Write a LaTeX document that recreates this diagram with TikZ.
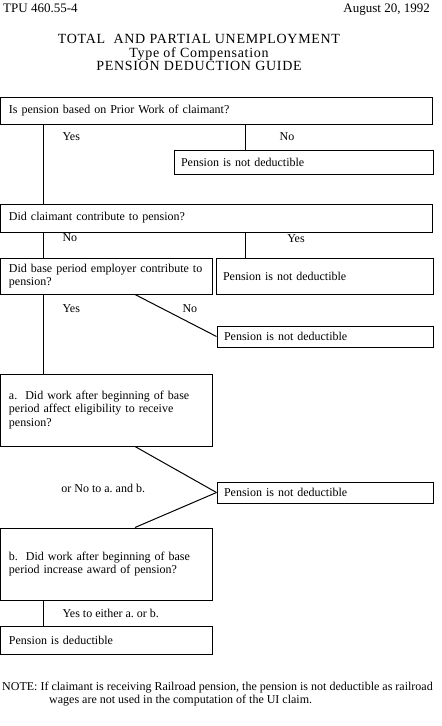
\documentclass[tikz,border=0pt]{standalone}
\usepackage{fontspec}
\setmainfont{Liberation Serif}
\newfontfamily\titlefamily[LetterSpace=5]{Liberation Serif}
\usepackage{tikz}
\usetikzlibrary{positioning}
\newcommand{\guidefont}{\fontsize{12}{13.5}\selectfont}
\tikzstyle{question} = [rectangle, draw=black, fill=none, line width=1pt, inner xsep=9pt, inner ysep=0pt, align=left, font=\guidefont]
\tikzstyle{verdict} = [rectangle, draw=black, fill=none, line width=1pt, inner xsep=7pt, inner ysep=0pt, align=left, font=\guidefont]
\tikzstyle{answer} = [font=\guidefont, inner sep=0pt]
\tikzstyle{connector} = [line width=1pt]

\begin{document}
\begin{tikzpicture}[x=1pt, y=1pt, node distance=60pt]
        \useasboundingbox (0,0) rectangle (442,-726);
        \node (code) [anchor=base west, inner sep=0pt, font=\fontsize{13}{15}\selectfont] at (3,-12.5) {TPU 460.55-4};
        \node (date) [anchor=base east, inner sep=0pt, font=\fontsize{13}{15}\selectfont] at (430,-12.5) {August 20, 1992};
        \node (title) [anchor=north, inner sep=0pt, align=center, font=\titlefamily\fontsize{14}{13.5}\selectfont] at (199,-34.5) {TOTAL\ \ AND PARTIAL UNEMPLOYMENT\\Type of Compensation\\PENSION DEDUCTION GUIDE};

        \node (q1) [question, text width=414pt, minimum height=27pt] at (216,-110.5) {Is pension based on Prior Work of claimant?};
        \node (nd1) [verdict, text width=245pt, minimum height=24pt, below of=q1, xshift=87.5pt, yshift=8.5pt] {Pension is not deductible};
        \node (q2) [question, text width=414pt, minimum height=28pt, below of=q1, yshift=-47.5pt] {Did claimant contribute to pension?};
        \node (q3) [question, text width=194pt, minimum height=36pt, below of=q2, xshift=-110pt, yshift=2pt] {Did base period employer contribute to\\pension?};
        \node (nd2) [verdict, text width=203pt, minimum height=36pt, right of=q3, xshift=158.5pt] {Pension is not deductible};
        \node (nd3) [verdict, text width=202pt, minimum height=21pt, below of=q3, xshift=219pt, yshift=-0.5pt] {Pension is not deductible};
        \node (qa) [question, text width=194pt, minimum height=72pt, below of=q3, yshift=-74pt] {a.\ \ Did work after beginning of base\\period affect eligibility to receive\\pension?};
        \node (nd4) [verdict, text width=202pt, minimum height=21pt, below of=qa, xshift=219pt, yshift=-22.5pt] {Pension is not deductible};
        \node (qb) [question, text width=194pt, minimum height=72pt, below of=qa, yshift=-94pt] {b.\ \ Did work after beginning of base\\period increase award of pension?};
        \node (yes) [question, text width=194pt, minimum height=28pt, below of=qb, yshift=-16pt] {Pension is deductible};

        \node (note) [anchor=north west, inner sep=0pt, align=left, font=\fontsize{12}{12.5}\selectfont] at (2,-682) {NOTE: If claimant is receiving Railroad pension, the pension is not deductible as railroad\\\hspace*{47pt}wages are not used in the computation of the UI claim.};

        \draw [connector] ([xshift=-173pt]q1.south) -- node[answer, pos=0.15, anchor=west, xshift=19pt] {Yes} ([xshift=-173pt]q2.north);
        \draw [connector] ([xshift=29pt]q1.south) -- node[answer, midway, xshift=42pt] {No} ([xshift=-58.5pt]nd1.north);
        \draw [connector] ([xshift=-173pt]q2.south) -- node[answer, pos=0.2, anchor=west, xshift=19pt] {No} ([xshift=-63pt]q3.north);
        \draw [connector] ([xshift=29pt]q2.south) -- node[answer, pos=0.23, xshift=51pt] {Yes} ([xshift=-79.5pt]nd2.north);
        \draw [connector] ([xshift=-63pt]q3.south) -- node[answer, pos=0.175, anchor=west, xshift=19pt] {Yes} ([xshift=-63pt]qa.north);
        \draw [connector] ([xshift=29pt]q3.south) -- node[answer, pos=0.33, xshift=28pt] {No} (nd3.west);
        \draw [connector] ([xshift=29pt]qa.south) -- node[answer, pos=1, anchor=east, xshift=-71pt, yshift=4pt] {or No to a.\ and b.} (nd4.west);
        \draw [connector] (nd4.west) -- ([xshift=29pt]qb.north);
        \draw [connector] ([xshift=-63pt]qb.south) -- node[answer, midway, anchor=west, xshift=19pt] {Yes to either a.\ or b.} ([xshift=-63pt]yes.north);
\end{tikzpicture}
\end{document}
